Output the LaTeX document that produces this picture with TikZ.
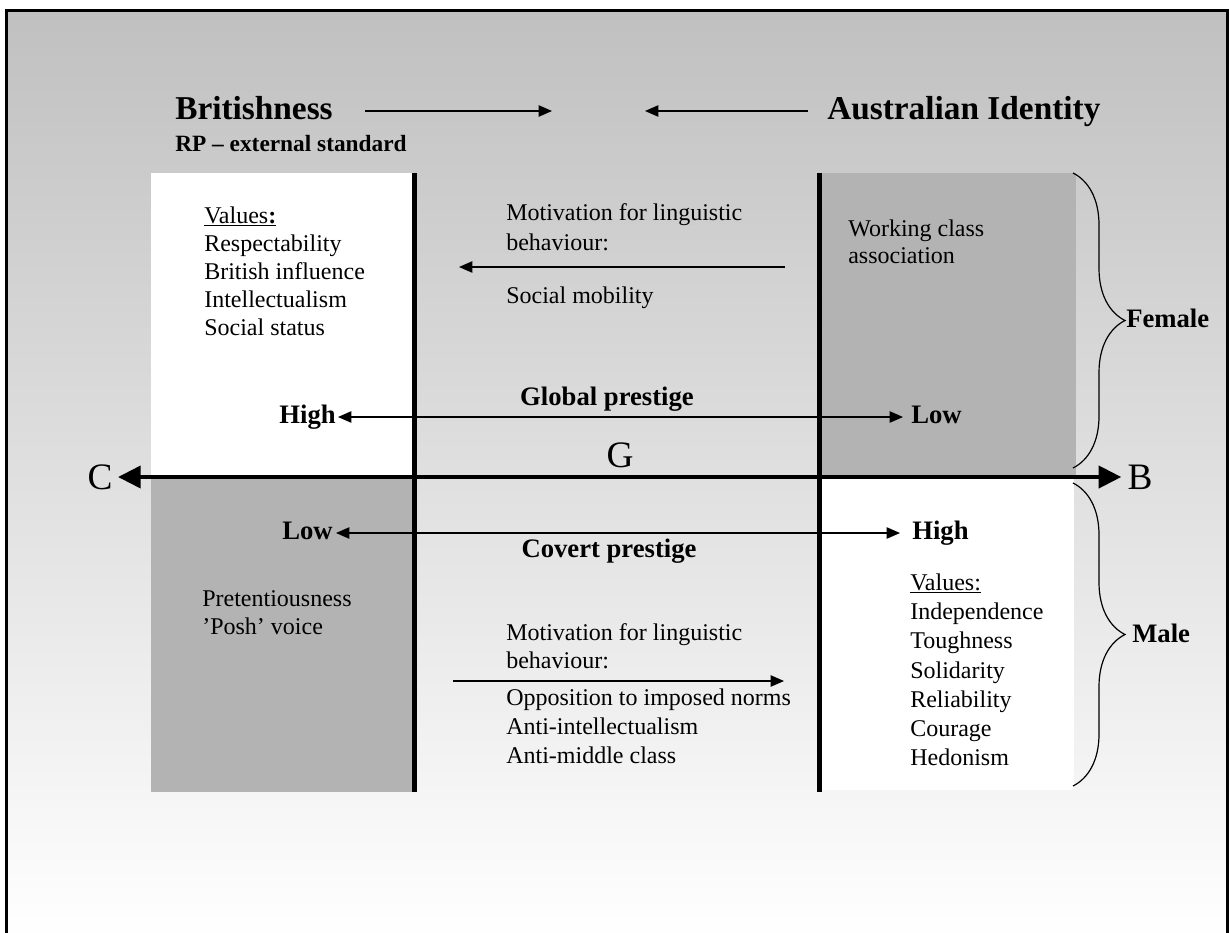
\documentclass[tikz,border=0pt]{standalone}
\usepackage{fontspec}
\setmainfont{Liberation Serif}
\usetikzlibrary{arrows.meta,decorations.pathreplacing}
\definecolor{bgtop}{HTML}{C0C0C0}
\definecolor{boxgray}{HTML}{B3B3B3}
\newcommand{\ulword}[1]{\underline{#1}}
\begin{document}
\begin{tikzpicture}[x=0.75pt,y=-0.75pt,
  body/.style={font=\fontsize{18}{21}\selectfont, align=left, inner sep=0pt, anchor=north west},
  bodyline/.style={font=\fontsize{18}{21}\selectfont, inner sep=0pt, anchor=base west},
  lbl/.style={font=\fontsize{20}{24}\selectfont\bfseries, inner ysep=0pt, text height=13.5pt, text depth=4.5pt},
  big/.style={font=\fontsize{28}{32}\selectfont, inner ysep=0pt, text height=18.5pt, text depth=0pt},
  head/.style={font=\fontsize{25}{30}\selectfont\bfseries, inner sep=0pt, anchor=base west},
  rpstyle/.style={font=\fontsize{17.5}{20}\selectfont\bfseries, inner sep=0pt, anchor=base west},
  thinarrow/.style={line width=1pt, -{Triangle[length=10pt,width=8.5pt]}},
  dblarrow/.style={line width=1pt, {Triangle[length=10pt,width=8.5pt]}-{Triangle[length=10pt,width=8.5pt]}},
  axisarrow/.style={line width=3pt, {Triangle[length=17pt,width=16.5pt]}-{Triangle[length=17pt,width=16.5pt]}},
  divider/.style={line width=3.75pt},
  brc/.style={decorate, decoration={brace, amplitude=39pt}, line width=0.9pt},
]
\clip (0,0) rectangle (1230,932);
% background and frame
\shade[top color=bgtop, bottom color=white] (6,10.5) rectangle (1227.5,940);
\draw[line width=2.25pt] (6,950) -- (6,10.5) -- (1227.5,10.5) -- (1227.5,950);

% quadrant boxes
\fill[white] (151,173) rectangle (415,476);
\fill[boxgray] (819,173) rectangle (1076,476);
\fill[boxgray] (151,476) rectangle (415,792);
\fill[white] (819,476) rectangle (1074,790);
\draw[divider] (414.5,173) -- (414.5,792);
\draw[divider] (819.5,173) -- (819.5,792);

% header
\node[head] (brit) at (175,119) {Britishness};
\node[head] (aus) at (827,119) {Australian Identity};
\node[rpstyle] (rp) at (175,151) {RP – external standard};
\coordinate (ba1) at (365,111); \coordinate (ba2) at (552,111);
\coordinate (aa1) at (808,111); \coordinate (aa2) at (645,111);
\draw[thinarrow] (ba1) -- (ba2);
\draw[thinarrow] (aa1) -- (aa2);

% upper left values
\node[body] (valsL) at (204,206.6) {\ulword{Values\textbf{:}}\\Respectability\\British influence\\Intellectualism\\Social status};

% upper middle
\node[body, font=\fontsize{18}{22.5}\selectfont] (motU) at (506,203.6) {Motivation for linguistic\\behaviour:};
\node[bodyline] (socmob) at (506,303) {Social mobility};
\coordinate (mu1) at (785,267); \coordinate (mu2) at (459,267);
\draw[thinarrow] (mu1) -- (mu2);

% upper right
\node[body, font=\fontsize{18}{20.5}\selectfont] (work) at (848,219.6) {Working class\\association};

% global prestige row
\node[lbl, anchor=east, inner xsep=1.5pt] (high1) at (338,417) {High};
\node[lbl, anchor=west, inner xsep=6pt] (low1) at (903,417) {Low};
\node[lbl, anchor=base, inner sep=0pt, text height=, text depth=] (glob) at (607,405) {Global prestige};
\draw[dblarrow] (high1) -- (low1);

% axis
\node[big, inner xsep=4pt] (C) at (100,477) {C};
\node[big, inner xsep=4.5pt] (B) at (1140,477) {B};
\node[big, anchor=base, inner sep=0pt, text height=, text depth=] (G) at (620,467) {G};
\draw[axisarrow] (C) -- (B);

% covert prestige row
\node[lbl, anchor=east, inner xsep=2.25pt] (low2) at (336,533) {Low};
\node[lbl, anchor=west, inner xsep=9pt] (high2) at (900,533) {High};
\node[lbl, anchor=base, inner sep=0pt, text height=, text depth=] (cov) at (609,557) {Covert prestige};
\draw[dblarrow] (low2) -- (high2);

% lower left
\node[body] (pret) at (202,590.6) {Pretentiousness\\’Posh’ voice};

% lower middle
\node[body] (motL) at (506,623.6) {Motivation for linguistic\\behaviour:};
\coordinate (ml1) at (453,681); \coordinate (ml2) at (784,681);
\draw[thinarrow] (ml1) -- (ml2);
\node[body, font=\fontsize{18}{21.75}\selectfont] (opp) at (506,688.6) {Opposition to imposed norms\\Anti-intellectualism\\Anti-middle class};

% lower right values
\node[body, font=\fontsize{18}{21.9}\selectfont] (valsR) at (910,573.6) {\ulword{Values:}\\Independence\\Toughness\\Solidarity\\Reliability\\Courage\\Hedonism};

% braces
\coordinate (f1) at (1073,173); \coordinate (f2) at (1073,468);
\coordinate (m1) at (1073,483); \coordinate (m2) at (1073,786);
\draw[brc] (f1) -- (f2);
\draw[brc] (m1) -- (m2);
\node[lbl, anchor=west, inner sep=0pt] (female) at (1126,321) {Female};
\node[lbl, anchor=west, inner sep=0pt] (male) at (1132,636) {Male};
\end{tikzpicture}
\end{document}
